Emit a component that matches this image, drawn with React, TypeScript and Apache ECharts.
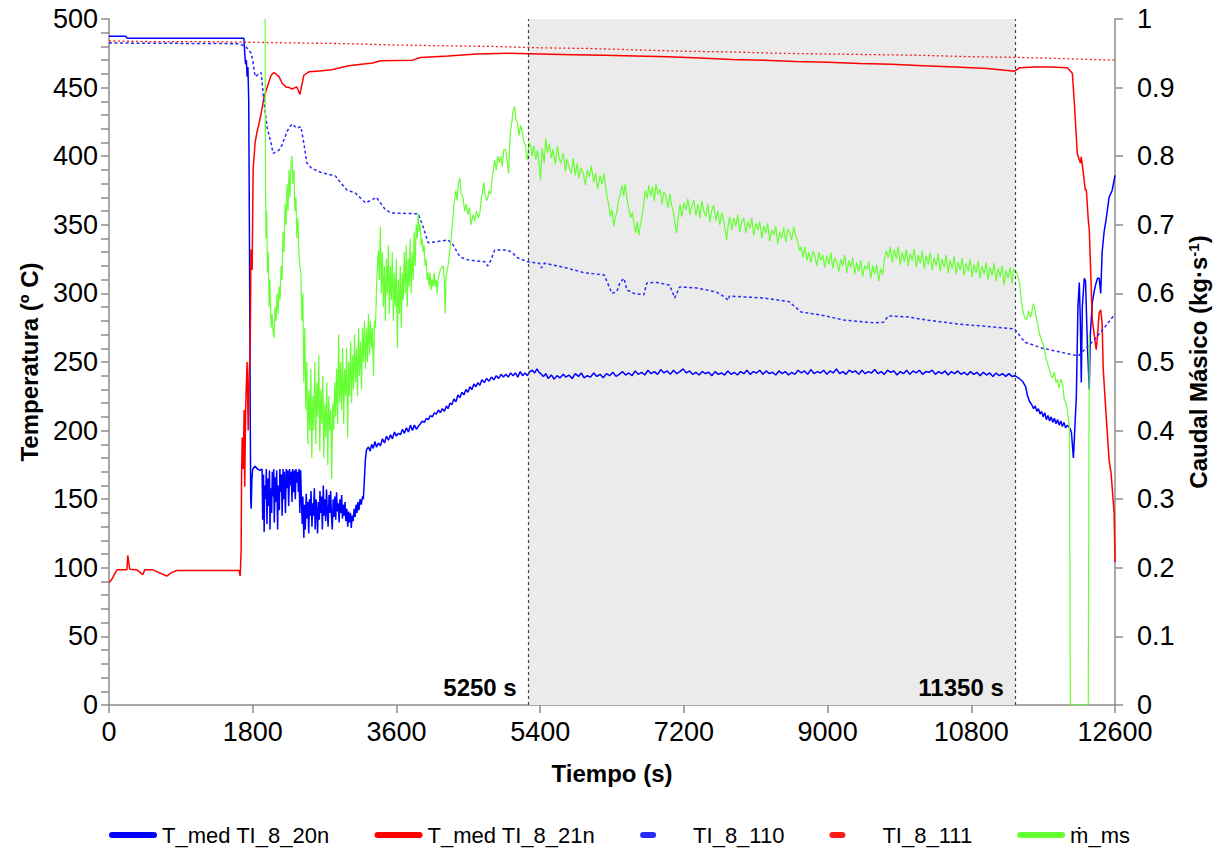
import React, { useEffect, useRef } from "react";
import * as echarts from "echarts";

const SANS = "'Liberation Sans', Arial, sans-serif";

const xTicks = { min: 0, max: 12600, interval: 1800 };
const leftTicks = { min: 0, max: 500, interval: 50 };
const rightTicks = { min: 0, max: 1, interval: 0.1 };
const phaseStart = 5250;
const phaseEnd = 11350;
const phaseLabels = ["5250 s", "11350 s"];
const seriesNames = ["T_med TI_8_20n", "T_med TI_8_21n", "TI_8_110", "TI_8_111", "ṁ_ms"];

const tMed20n: number[][] = [
  [0, 487.5], [210, 487.5], [225, 486], [1690, 486], [1700, 475], [1710, 467], [1720, 470], [1730, 458], [1740, 465], [1750, 440], [1760, 330], [1770, 200], [1775, 150], [1780, 143], [1790, 165], [1800, 172], [1830, 174], [1860, 172], [1890, 171], [1917, 172],
  [1925, 135], [1935, 168], [1943, 126], [1950, 160], [1962, 150], [1970, 172], [1978, 132], [1990, 165], [1998, 145], [2010, 171], [2016, 128], [2025, 158], [2037, 140], [2045, 170], [2052, 152], [2063, 172], [2070, 133], [2082, 166], [2090, 148], [2100, 171], [2112, 128], [2120, 160], [2133, 142], [2140, 172], [2150, 155], [2160, 168], [2168, 138], [2180, 172], [2190, 150], [2197, 170], [2210, 140], [2220, 172], [2228, 158], [2240, 171], [2250, 145], [2262, 172], [2270, 160], [2282, 170], [2292, 148], [2300, 172], [2312, 155], [2322, 171], [2333, 150], [2342, 172], [2352, 162], [2362, 170], [2372, 155], [2380, 172], [2390, 140], [2400, 171], [2410, 150],
  [2420, 132], [2428, 152], [2440, 122], [2450, 146], [2458, 128], [2470, 154], [2480, 136], [2490, 148], [2502, 125], [2510, 150], [2522, 138], [2530, 156], [2542, 130], [2552, 147], [2560, 138], [2572, 158], [2582, 128], [2594, 150], [2602, 142], [2612, 125], [2622, 148], [2634, 135], [2642, 156], [2654, 140], [2662, 152], [2672, 128], [2684, 160], [2692, 138], [2704, 150], [2714, 134], [2724, 157], [2734, 142], [2744, 130], [2756, 153], [2764, 140], [2776, 156], [2786, 138], [2796, 128], [2808, 150], [2818, 137], [2828, 152], [2840, 135], [2850, 155], [2860, 141], [2870, 147], [2882, 133], [2892, 150], [2904, 140], [2914, 153], [2924, 136], [2934, 146], [2946, 138], [2956, 148], [2966, 134], [2978, 143], [2990, 130], [3000, 141], [3012, 133], [3024, 140], [3034, 129], [3046, 138], [3058, 134], [3070, 143], [3082, 137], [3094, 146], [3106, 140], [3118, 148], [3130, 142], [3145, 150], [3160, 146], [3175, 152], [3185, 150],
  [3195, 160], [3210, 178], [3225, 186], [3250, 188], [3270, 185], [3290, 190], [3310, 187], [3330, 192], [3350, 188], [3374, 191], [3400, 189], [3425, 194], [3450, 191], [3475, 196], [3500, 193], [3525, 197], [3550, 194], [3575, 199], [3600, 196], [3623, 198], [3650, 197], [3675, 201], [3700, 198], [3725, 202], [3750, 199], [3775, 204], [3800, 200], [3825, 204], [3850, 201], [3872, 203], [3900, 205], [3925, 207], [3950, 206], [3975, 209], [4000, 208], [4025, 211], [4050, 210], [4075, 213], [4100, 212], [4125, 215], [4150, 213], [4175, 216], [4200, 214], [4225, 218], [4246, 216], [4270, 220], [4295, 219], [4320, 223], [4345, 221], [4370, 226], [4395, 224], [4420, 228], [4445, 226], [4470, 230], [4495, 228], [4520, 232], [4545, 230], [4570, 234], [4595, 232], [4620, 235], [4645, 233], [4670, 237], [4700, 235], [4730, 238], [4760, 236], [4790, 239], [4820, 237], [4850, 240], [4880, 238], [4910, 241], [4940, 239], [4970, 241], [5000, 239], [5030, 242], [5060, 240], [5090, 242], [5120, 239], [5150, 243], [5180, 240], [5210, 242], [5240, 240], [5270, 243], [5300, 244], [5330, 242], [5360, 245], [5390, 242],
  [5400, 242], [5440, 239.5], [5470, 241.5], [5500, 238], [5540, 240.5], [5575, 237.5], [5610, 240], [5650, 238.5], [5690, 241], [5720, 239], [5760, 240.5], [5800, 238], [5840, 241.5], [5880, 239.5], [5915, 242], [5950, 238.5], [5990, 240], [6030, 239], [6070, 242], [6110, 239.5], [6150, 241], [6190, 238.5], [6230, 241.5], [6270, 240], [6310, 242.5], [6350, 239.5], [6390, 241], [6430, 243], [6470, 240.5], [6510, 242], [6550, 240], [6590, 243.5], [6630, 241], [6670, 242.5], [6710, 240.5], [6750, 244], [6790, 241.5], [6830, 243], [6870, 241], [6910, 244.5], [6950, 242], [6990, 243.5], [7030, 241], [7070, 244], [7110, 241.5], [7150, 243], [7190, 245], [7230, 242], [7270, 243.5], [7310, 241], [7350, 242.5], [7390, 240.5], [7430, 243], [7470, 241.5], [7510, 242.5], [7550, 240], [7590, 243], [7630, 241], [7670, 242], [7710, 240.5], [7750, 243.5], [7790, 241], [7830, 242.5], [7870, 240.5], [7910, 243], [7950, 241.5], [7990, 244], [8030, 241], [8070, 243], [8110, 242], [8150, 244], [8190, 241], [8230, 243.5], [8270, 241.5], [8310, 242.5], [8350, 240.5], [8390, 243.5], [8430, 241.5], [8470, 243], [8510, 240.5], [8550, 242.5], [8590, 241], [8630, 244], [8670, 242], [8710, 243.5], [8750, 241], [8790, 244.5], [8830, 241.5], [8870, 243], [8910, 242], [8950, 244], [8990, 241], [9030, 243.5], [9070, 242], [9110, 245], [9150, 241.5], [9190, 243], [9230, 241], [9270, 244], [9310, 242.5], [9350, 243.5], [9390, 241], [9430, 244], [9470, 241.5], [9510, 243], [9550, 242], [9590, 244.5], [9630, 241.5], [9670, 243], [9710, 241], [9750, 244], [9790, 242.5], [9830, 243.5], [9870, 240.5], [9910, 243], [9950, 241.5], [9990, 244], [10030, 241], [10070, 243.5], [10110, 242], [10150, 244], [10190, 241], [10230, 243], [10270, 242.5], [10310, 244], [10350, 241], [10390, 243], [10430, 241.5], [10470, 243.5], [10510, 240.5], [10550, 243], [10590, 241.5], [10630, 243.5], [10670, 241], [10710, 242.5], [10750, 240.5], [10790, 243], [10830, 241], [10870, 242.5], [10910, 240], [10950, 242.5], [10990, 240.5], [11030, 242], [11070, 239.5], [11110, 242], [11150, 240], [11190, 241.5], [11230, 239.5], [11270, 241.5], [11310, 239.5], [11343, 240],
  [11400, 238], [11440, 236], [11480, 232], [11505, 225], [11530, 221], [11555, 219], [11580, 216], [11600, 218], [11620, 214], [11640, 216], [11660, 212], [11680, 214], [11700, 210], [11720, 213], [11740, 208], [11760, 211], [11780, 207], [11800, 210], [11820, 206], [11840, 209], [11860, 205], [11880, 208], [11900, 204], [11920, 207], [11940, 203], [11960, 206], [11980, 202], [12003, 204], [12030, 202], [12053, 199], [12078, 180], [12095, 200], [12115, 225], [12135, 290], [12152, 308], [12165, 280], [12177, 235], [12190, 290], [12214, 311], [12230, 309], [12255, 260], [12277, 230], [12290, 270], [12314, 293], [12340, 302], [12364, 308], [12380, 311], [12401, 311], [12420, 300], [12438, 330], [12463, 345], [12488, 354], [12525, 370], [12563, 375], [12600, 386],
];

const tMed21n: number[][] = [
  [0, 89], [40, 92], [75, 96], [100, 98.5], [224, 98.5], [235, 109], [260, 99], [350, 98.5], [423, 95], [448, 98.5], [548, 98.5], [722, 94], [784, 96.5], [847, 98], [1630, 98], [1643, 94], [1655, 113], [1660, 166], [1668, 195], [1680, 172], [1693, 215], [1700, 159], [1710, 210], [1718, 230], [1730, 250], [1743, 200], [1755, 240], [1768, 259], [1778, 332], [1793, 317], [1805, 390], [1830, 410], [1855, 418], [1880, 424], [1905, 431], [1942, 443], [1980, 450], [2030, 459], [2067, 461], [2129, 458], [2170, 453], [2216, 450.5], [2260, 450], [2291, 449], [2353, 450.5], [2391, 445], [2440, 459], [2503, 461.5], [2600, 462], [2789, 463], [3000, 466], [3300, 468], [3400, 469.5], [3800, 470], [3900, 472], [4250, 473], [4600, 474.5], [5000, 475], [5400, 474.5], [5800, 474], [6200, 473.5], [6600, 473], [7000, 472.5], [7400, 471.5], [7800, 470.5], [8200, 470], [8600, 469], [9000, 468.5], [9400, 467.5], [9800, 467], [10200, 466], [10600, 465], [11000, 464], [11343, 462], [11405, 464.5], [11600, 465], [11800, 465], [12003, 464.5], [12065, 460.5], [12090, 439], [12127, 402], [12165, 395], [12177, 399.5], [12202, 388], [12227, 375.5], [12240, 375.5], [12264, 354], [12277, 346], [12301, 305], [12314, 281], [12364, 259], [12376, 266], [12401, 286], [12420, 288], [12438, 278], [12451, 246], [12476, 222], [12525, 178.6], [12550, 169], [12588, 140], [12600, 104],
];

const ti110: number[][] = [
  [0, 482.5], [1631, 482], [1718, 479.6], [1781, 475], [1805, 468], [1830, 458], [1855, 459], [1905, 461], [1917, 454], [1942, 439], [1980, 421], [2030, 409.6], [2055, 402], [2129, 404.5], [2166, 408], [2229, 418], [2291, 423.5], [2353, 420.5], [2403, 421.5], [2440, 409.5], [2478, 395], [2540, 391], [2665, 388], [2839, 385.5], [2876, 382.5], [2976, 375.5], [3088, 373], [3212, 366], [3287, 368], [3349, 370], [3461, 361], [3536, 358.6], [3872, 358], [3934, 348.5], [3997, 337], [4084, 337.5], [4246, 339], [4308, 335.5], [4395, 326.6], [4495, 324.4], [4707, 323], [4744, 320], [4781, 324], [4831, 331.7], [4993, 331.7], [5055, 329.5], [5117, 326], [5242, 323], [5391, 322], [5416, 318.6], [5453, 322], [5703, 319], [5952, 315], [6201, 313.5], [6263, 305], [6300, 300], [6362, 301.5], [6400, 308], [6450, 311], [6487, 302.5], [6574, 300], [6699, 299], [6736, 307.6], [6861, 308], [7022, 306], [7085, 296.7], [7147, 304.7], [7359, 304], [7608, 301], [7707, 297.4], [7757, 295], [7769, 298], [8193, 296.7], [8517, 294], [8666, 286.5], [8977, 283.6], [9189, 280.7], [9600, 278.5], [9700, 279], [9762, 283.6], [10011, 282.8], [10222, 280.7], [10633, 277.7], [11057, 275.6], [11343, 274], [11467, 264.6], [11679, 260.2], [12090, 255], [12152, 255], [12252, 261], [12339, 266], [12463, 274.8], [12600, 285],
];

const ti111: number[][] = [
  [0, 484], [600, 483.5], [1200, 483.5], [1800, 483], [2400, 482.5], [3000, 482], [3600, 481], [4200, 480.5], [4800, 480], [5400, 479], [6000, 478.5], [6600, 477.5], [7200, 476.5], [7800, 476], [8400, 475], [9000, 474.5], [9600, 474], [10200, 473.5], [10800, 472.5], [11400, 472], [12000, 471], [12600, 470],
];

const mms: number[][] = [
  [1955, 1.0], [1960, 0.75], [1967, 0.68], [1975, 0.72], [1985, 0.63], [1995, 0.66], [2005, 0.58], [2015, 0.62], [2030, 0.55], [2042, 0.57], [2055, 0.545], [2067, 0.535], [2080, 0.58], [2092, 0.56], [2105, 0.6], [2118, 0.57], [2130, 0.61], [2142, 0.59], [2155, 0.64], [2168, 0.62], [2180, 0.69], [2192, 0.66], [2205, 0.73], [2218, 0.7], [2230, 0.76], [2242, 0.72], [2254, 0.78], [2266, 0.74], [2279, 0.79], [2291, 0.8], [2303, 0.76], [2316, 0.78], [2328, 0.72], [2341, 0.74], [2353, 0.68], [2366, 0.71], [2378, 0.66], [2391, 0.64], [2403, 0.63], [2415, 0.56], [2428, 0.6], [2440, 0.47], [2452, 0.55], [2465, 0.43], [2478, 0.5], [2490, 0.38], [2503, 0.46], [2515, 0.4], [2528, 0.49], [2540, 0.36], [2553, 0.45], [2565, 0.4], [2578, 0.5], [2590, 0.38], [2603, 0.47], [2615, 0.42], [2628, 0.51], [2640, 0.37], [2653, 0.46], [2665, 0.41], [2678, 0.48], [2690, 0.36], [2703, 0.44], [2715, 0.39], [2728, 0.47], [2740, 0.35], [2752, 0.45], [2765, 0.4], [2777, 0.43], [2789, 0.33], [2802, 0.44], [2814, 0.4], [2827, 0.47], [2839, 0.42], [2851, 0.49], [2864, 0.41], [2876, 0.54], [2889, 0.44], [2901, 0.5], [2914, 0.43], [2926, 0.52], [2939, 0.41], [2951, 0.49], [2964, 0.45], [2976, 0.52], [2989, 0.39], [3001, 0.5], [3013, 0.45], [3026, 0.53], [3038, 0.44], [3051, 0.51], [3063, 0.46], [3076, 0.54], [3088, 0.47], [3100, 0.52], [3113, 0.45], [3125, 0.55], [3138, 0.48], [3150, 0.53], [3163, 0.46], [3175, 0.55], [3188, 0.5], [3200, 0.56], [3212, 0.49], [3225, 0.55], [3237, 0.5], [3250, 0.57], [3262, 0.51], [3275, 0.56], [3287, 0.52], [3300, 0.55], [3312, 0.48], [3325, 0.56], [3337, 0.55], [3349, 0.6], [3362, 0.64], [3374, 0.663], [3386, 0.62], [3399, 0.697], [3411, 0.6], [3424, 0.66], [3436, 0.58], [3449, 0.64], [3461, 0.56], [3474, 0.65], [3486, 0.6], [3499, 0.67], [3511, 0.57], [3524, 0.64], [3536, 0.59], [3548, 0.66], [3561, 0.56], [3573, 0.63], [3586, 0.58], [3598, 0.65], [3611, 0.52], [3623, 0.62], [3636, 0.57], [3648, 0.64], [3660, 0.55], [3673, 0.63], [3685, 0.59], [3698, 0.66], [3710, 0.6], [3723, 0.67], [3735, 0.58], [3748, 0.65], [3760, 0.61], [3772, 0.68], [3785, 0.6], [3797, 0.66], [3810, 0.62], [3822, 0.69], [3835, 0.64], [3847, 0.7], [3860, 0.68], [3872, 0.717], [3885, 0.69], [3897, 0.7], [3910, 0.67], [3922, 0.68], [3934, 0.66], [3947, 0.67], [3960, 0.64], [3972, 0.65], [3985, 0.62], [3997, 0.63], [4010, 0.61], [4022, 0.63], [4035, 0.605], [4047, 0.62], [4060, 0.61], [4072, 0.63], [4085, 0.61], [4097, 0.62], [4110, 0.6],
  [4121, 0.62], [4150, 0.635], [4184, 0.64], [4200, 0.62], [4209, 0.571], [4222, 0.625], [4246, 0.64], [4265, 0.66], [4283, 0.678], [4300, 0.7], [4320, 0.73], [4345, 0.75], [4360, 0.735], [4375, 0.76], [4395, 0.768], [4410, 0.745], [4433, 0.74], [4455, 0.72], [4475, 0.73], [4495, 0.715], [4515, 0.725], [4535, 0.7], [4560, 0.715], [4582, 0.705], [4600, 0.72], [4625, 0.71], [4644, 0.717], [4665, 0.74], [4680, 0.75], [4694, 0.762], [4710, 0.745], [4730, 0.735], [4744, 0.74], [4760, 0.75], [4781, 0.745], [4800, 0.77], [4815, 0.78], [4831, 0.794], [4850, 0.78], [4870, 0.8], [4890, 0.79], [4906, 0.8], [4925, 0.785], [4945, 0.81], [4968, 0.809], [4985, 0.795], [5005, 0.775], [5018, 0.82], [5030, 0.838], [5045, 0.85], [5060, 0.865], [5080, 0.872], [5095, 0.855], [5117, 0.848], [5135, 0.83], [5155, 0.845], [5180, 0.833], [5198, 0.82], [5217, 0.816], [5230, 0.8], [5242, 0.794], [5260, 0.82], [5279, 0.816], [5300, 0.8], [5320, 0.815], [5345, 0.795], [5366, 0.809], [5385, 0.79],
  [5404, 0.765], [5425, 0.812], [5450, 0.79], [5470, 0.826], [5491, 0.805], [5515, 0.818], [5540, 0.797], [5560, 0.81], [5590, 0.788], [5615, 0.815], [5640, 0.796], [5660, 0.79], [5690, 0.805], [5715, 0.778], [5738, 0.796], [5760, 0.784], [5790, 0.775], [5815, 0.797], [5840, 0.772], [5865, 0.79], [5885, 0.768], [5910, 0.783], [5940, 0.775], [5965, 0.758], [5990, 0.78], [6015, 0.77], [6040, 0.786], [6070, 0.762], [6095, 0.775], [6120, 0.752], [6150, 0.772], [6175, 0.76], [6200, 0.775], [6220, 0.755], [6240, 0.74], [6260, 0.728], [6280, 0.712], [6300, 0.722], [6320, 0.698], [6340, 0.71], [6362, 0.72], [6385, 0.738], [6405, 0.745], [6425, 0.758], [6445, 0.742], [6465, 0.76], [6490, 0.735], [6512, 0.722], [6535, 0.71], [6555, 0.718], [6575, 0.702], [6595, 0.688], [6615, 0.705], [6635, 0.685], [6655, 0.7], [6675, 0.712], [6695, 0.728], [6715, 0.75], [6740, 0.738], [6760, 0.758], [6785, 0.742], [6805, 0.755], [6830, 0.735], [6850, 0.76], [6875, 0.744], [6900, 0.752], [6925, 0.73], [6950, 0.748], [6975, 0.742], [7000, 0.725], [7025, 0.745], [7047, 0.728], [7070, 0.718], [7090, 0.7], [7110, 0.688], [7130, 0.712], [7150, 0.73], [7175, 0.712], [7200, 0.732], [7225, 0.722], [7250, 0.738], [7275, 0.715], [7300, 0.728], [7325, 0.736], [7350, 0.714], [7375, 0.73], [7400, 0.71], [7425, 0.735], [7450, 0.72], [7475, 0.712], [7500, 0.73], [7525, 0.704], [7550, 0.722], [7575, 0.728], [7600, 0.706], [7625, 0.72], [7650, 0.7], [7675, 0.718], [7700, 0.705], [7720, 0.69], [7735, 0.678], [7755, 0.7], [7775, 0.712], [7800, 0.692], [7825, 0.71], [7850, 0.698], [7875, 0.715], [7900, 0.69], [7925, 0.705], [7950, 0.71], [7975, 0.688], [8000, 0.705], [8025, 0.695], [8050, 0.71], [8075, 0.684], [8100, 0.702], [8125, 0.692], [8150, 0.705], [8175, 0.68], [8200, 0.698], [8225, 0.688], [8250, 0.702], [8275, 0.676], [8300, 0.693], [8325, 0.685], [8350, 0.698], [8375, 0.672], [8400, 0.69], [8425, 0.68], [8450, 0.696], [8475, 0.675], [8500, 0.694], [8525, 0.688], [8550, 0.678], [8575, 0.697], [8600, 0.684], [8625, 0.676], [8650, 0.662], [8670, 0.668], [8690, 0.652], [8715, 0.668], [8740, 0.648], [8765, 0.66], [8790, 0.645], [8815, 0.662], [8840, 0.655], [8865, 0.64], [8890, 0.66], [8915, 0.648], [8940, 0.656], [8965, 0.638], [8990, 0.655], [9015, 0.642], [9040, 0.66], [9065, 0.636], [9090, 0.652], [9115, 0.645], [9140, 0.632], [9165, 0.65], [9190, 0.64], [9215, 0.656], [9240, 0.63], [9265, 0.648], [9290, 0.638], [9315, 0.652], [9340, 0.628], [9365, 0.645], [9390, 0.632], [9415, 0.648], [9440, 0.625], [9465, 0.64], [9490, 0.635], [9515, 0.646], [9540, 0.622], [9565, 0.64], [9590, 0.628], [9615, 0.642], [9640, 0.618], [9665, 0.636], [9690, 0.628], [9710, 0.648], [9735, 0.662], [9760, 0.652], [9785, 0.668], [9810, 0.645], [9835, 0.664], [9860, 0.65], [9885, 0.668], [9910, 0.642], [9935, 0.66], [9960, 0.646], [9985, 0.664], [10010, 0.64], [10035, 0.658], [10060, 0.648], [10085, 0.665], [10110, 0.638], [10135, 0.656], [10160, 0.644], [10185, 0.662], [10210, 0.636], [10235, 0.655], [10260, 0.642], [10285, 0.66], [10310, 0.634], [10335, 0.652], [10360, 0.64], [10385, 0.658], [10410, 0.632], [10435, 0.65], [10460, 0.638], [10485, 0.656], [10510, 0.63], [10535, 0.648], [10560, 0.636], [10585, 0.654], [10610, 0.628], [10635, 0.646], [10660, 0.634], [10685, 0.652], [10710, 0.626], [10735, 0.644], [10760, 0.632], [10785, 0.65], [10810, 0.624], [10835, 0.642], [10860, 0.63], [10885, 0.648], [10910, 0.622], [10935, 0.64], [10960, 0.628], [10985, 0.645], [11010, 0.62], [11035, 0.638], [11060, 0.626], [11085, 0.644], [11110, 0.618], [11135, 0.636], [11160, 0.624], [11185, 0.64], [11210, 0.612], [11235, 0.634], [11260, 0.622], [11285, 0.638], [11310, 0.615], [11330, 0.636], [11343, 0.634],
  [11370, 0.63], [11405, 0.615], [11425, 0.59], [11443, 0.576], [11465, 0.565], [11492, 0.561], [11520, 0.575], [11540, 0.565], [11555, 0.571], [11575, 0.585], [11592, 0.58], [11610, 0.565], [11629, 0.557], [11655, 0.54], [11679, 0.532], [11700, 0.525], [11716, 0.52], [11735, 0.505], [11754, 0.498], [11775, 0.49], [11795, 0.48], [11816, 0.477], [11840, 0.485], [11860, 0.47], [11878, 0.474], [11900, 0.462], [11920, 0.475], [11941, 0.469], [11955, 0.455], [11965, 0.445], [11985, 0.44], [12003, 0.43], [12028, 0.405], [12040, 0], [12264, 0], [12277, 0.54],
];

const AXIS_GRAY = "#8c8c8c";

const solidIcon = "path://M3,0 L45,0 A3,3 0 0 1 45,6 L3,6 A3,3 0 0 1 3,0 Z";
const dotIcon = "path://M0,3 L0,3 M48,3 L48,3 M3,0 L13,0 A3,3 0 0 1 13,6 L3,6 A3,3 0 0 1 3,0 Z";

export default function App() {
  const ref = useRef<HTMLDivElement>(null);
  useEffect(() => {
    if (!ref.current) return;
    const chart = echarts.init(ref.current, undefined, { renderer: "svg" });
    const tickLabel = { fontFamily: SANS, fontSize: 27, color: "#000" };
    const nameStyle = { fontFamily: SANS, fontSize: 24, fontWeight: "bold" as const, color: "#000" };
    const lineBase = { type: "line" as const, showSymbol: false, symbol: "none" };
    chart.setOption({
      animation: false,
      backgroundColor: "#fff",
      grid: { left: 109, right: 97, top: 19, bottom: 147, containLabel: false },
      legend: {
        top: 819,
        left: 104,
        itemWidth: 48,
        itemHeight: 6,
        itemGap: 45,
        itemStyle: { borderWidth: 0 },
        textStyle: { fontFamily: SANS, fontSize: 22, color: "#000" },
        data: [
          { name: seriesNames[0], icon: solidIcon },
          { name: seriesNames[1], icon: solidIcon },
          { name: seriesNames[2], icon: dotIcon },
          { name: seriesNames[3], icon: dotIcon },
          { name: seriesNames[4], icon: solidIcon },
        ],
      },
      xAxis: {
        type: "value",
        min: xTicks.min,
        max: xTicks.max,
        interval: xTicks.interval,
        name: "Tiempo (s)",
        nameLocation: "middle",
        nameGap: 56,
        nameTextStyle: nameStyle,
        axisLine: { show: true, lineStyle: { color: AXIS_GRAY, width: 1.5 } },
        axisTick: { show: true, length: 8, lineStyle: { color: AXIS_GRAY, width: 1.5 } },
        axisLabel: { ...tickLabel, margin: 13, formatter: (v: number) => String(v) },
        splitLine: { show: false },
      },
      yAxis: [
        {
          type: "value",
          min: leftTicks.min,
          max: leftTicks.max,
          interval: leftTicks.interval,
          name: "Temperatura (º C)",
          nameLocation: "middle",
          nameGap: 68,
          nameTextStyle: nameStyle,
          axisLine: { show: true, lineStyle: { color: AXIS_GRAY, width: 1.5 } },
          axisTick: { show: true, length: 8, lineStyle: { color: AXIS_GRAY, width: 1.5 } },
          minorTick: { show: true, splitNumber: 5, length: 8, lineStyle: { color: AXIS_GRAY, width: 1.5 } },
          axisLabel: { ...tickLabel, margin: 11, formatter: (v: number) => String(v) },
          splitLine: { show: false },
          minorSplitLine: { show: false },
        },
        {
          type: "value",
          position: "right",
          min: rightTicks.min,
          max: rightTicks.max,
          interval: rightTicks.interval,
          name: "Caudal Másico (kg·s{sup|-1})",
          nameLocation: "middle",
          nameGap: 68,
          nameTextStyle: {
            ...nameStyle,
            rich: {
              sup: { fontFamily: SANS, fontSize: 15, fontWeight: "bold", color: "#000", verticalAlign: "top", padding: [0, 0, 10, 0] },
            },
          },
          axisLine: { show: true, lineStyle: { color: AXIS_GRAY, width: 1.5 } },
          axisTick: { show: true, length: 8, lineStyle: { color: AXIS_GRAY, width: 1.5 } },
          axisLabel: { ...tickLabel, margin: 22, formatter: (v: number) => String(Math.round(v * 10) / 10) },
          splitLine: { show: false },
        },
      ],
      series: [
        {
          ...lineBase,
          name: seriesNames[0],
          data: tMed20n,
          color: "#0000ff",
          lineStyle: { color: "#0000ff", width: 1.5 },
          markArea: {
            silent: true,
            itemStyle: { color: "#ebebeb" },
            data: [[{ xAxis: phaseStart }, { xAxis: phaseEnd }]],
          },
          markLine: {
            silent: true,
            symbol: "none",
            label: { show: false },
            lineStyle: { color: "#444", type: [3, 3], width: 1.2 },
            data: [{ xAxis: phaseStart }, { xAxis: phaseEnd }],
          },
          markPoint: {
            silent: true,
            symbol: "circle",
            symbolSize: 1,
            itemStyle: { color: "rgba(0,0,0,0)" },
            label: {
              show: true,
              position: "left",
              distance: 11,
              fontFamily: SANS,
              fontSize: 24,
              fontWeight: "bold",
              color: "#000",
              formatter: (p: any) => p.name,
            },
            data: [
              { name: phaseLabels[0], coord: [phaseStart, 12.5] },
              { name: phaseLabels[1], coord: [phaseEnd, 12.5] },
            ],
          },
        },
        {
          ...lineBase,
          name: seriesNames[1],
          data: tMed21n,
          color: "#ff0000",
          lineStyle: { color: "#ff0000", width: 1.5 },
        },
        {
          ...lineBase,
          name: seriesNames[2],
          data: ti110,
          color: "#2a2aff",
          lineStyle: { color: "#2a2aff", width: 1.5, type: [3, 2.5] },
        },
        {
          ...lineBase,
          name: seriesNames[3],
          data: ti111,
          color: "#ff1a1a",
          lineStyle: { color: "#ff1a1a", width: 1.3, type: [2, 2.5] },
        },
        {
          ...lineBase,
          name: seriesNames[4],
          data: mms,
          yAxisIndex: 1,
          color: "#66ff33",
          lineStyle: { color: "#66ff33", width: 1.2 },
        },
      ],
    });
    return () => chart.dispose();
  }, []);
  return <div ref={ref} style={{ width: 1218, height: 852, position: "absolute", left: 0, top: 0 }} />;
}
